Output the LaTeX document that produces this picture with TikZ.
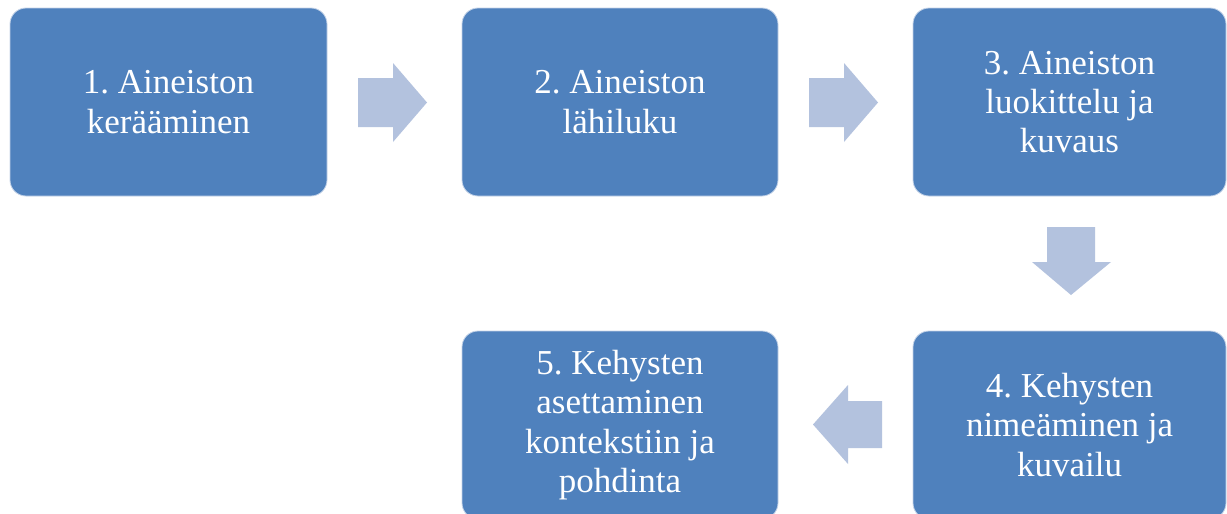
\documentclass[tikz,border=0pt]{standalone}
\usepackage{fontspec}
\setmainfont{Liberation Serif}
\frenchspacing
\definecolor{boxblue}{RGB}{79,129,189}
\definecolor{boxedge}{RGB}{196,211,232}
\definecolor{arrowblue}{RGB}{179,194,222}
\begin{document}
\begin{tikzpicture}[x=1pt,y=-1pt,
  stepbox/.style={rectangle, rounded corners=16pt, fill=boxblue, draw=boxedge, line width=0.8pt,
    text=white, align=center, inner sep=0pt, font=\frenchspacing\fontsize{35}{39.3}\selectfont},
  blockarrow/.style={fill=arrowblue}]
\clip (0,0) rectangle (1227,514);
\fill[white] (0,0) rectangle (1227,514);
\node[stepbox, minimum width=317pt, minimum height=188pt] (b1) at (168.5,102) {1. Aineiston\\kerääminen};
\node[stepbox, minimum width=316pt, minimum height=188pt] (b2) at (620,102) {2. Aineiston\\lähiluku};
\node[stepbox, minimum width=313pt, minimum height=188pt] (b3) at (1069.5,102) {3. Aineiston\\luokittelu ja\\kuvaus};
\node[stepbox, minimum width=313pt, minimum height=188pt] (b4) at (1069.5,425) {4. Kehysten\\nimeäminen ja\\kuvailu};
\node[stepbox, minimum width=316pt, minimum height=188pt] (b5) at (620,425) {5. Kehysten\\asettaminen\\kontekstiin ja\\pohdinta};
% arrow 1 -> 2
\fill[blockarrow] (358,78) -- (393,78) -- (393,63) -- (427,102.5) -- (393,142) -- (393,127) -- (358,127) -- cycle;
% arrow 2 -> 3
\fill[blockarrow] (809,78) -- (844,78) -- (844,63) -- (878,102.5) -- (844,142) -- (844,127) -- (809,127) -- cycle;
% arrow 3 -> 4 (down)
\fill[blockarrow] (1047,227) -- (1095,227) -- (1095,262) -- (1111,262) -- (1071,295) -- (1032,262) -- (1047,262) -- cycle;
% arrow 4 -> 5 (left)
\fill[blockarrow] (882,401) -- (848,401) -- (848,385) -- (813,424.5) -- (848,464) -- (848,448) -- (882,448) -- cycle;
\end{tikzpicture}
\end{document}
